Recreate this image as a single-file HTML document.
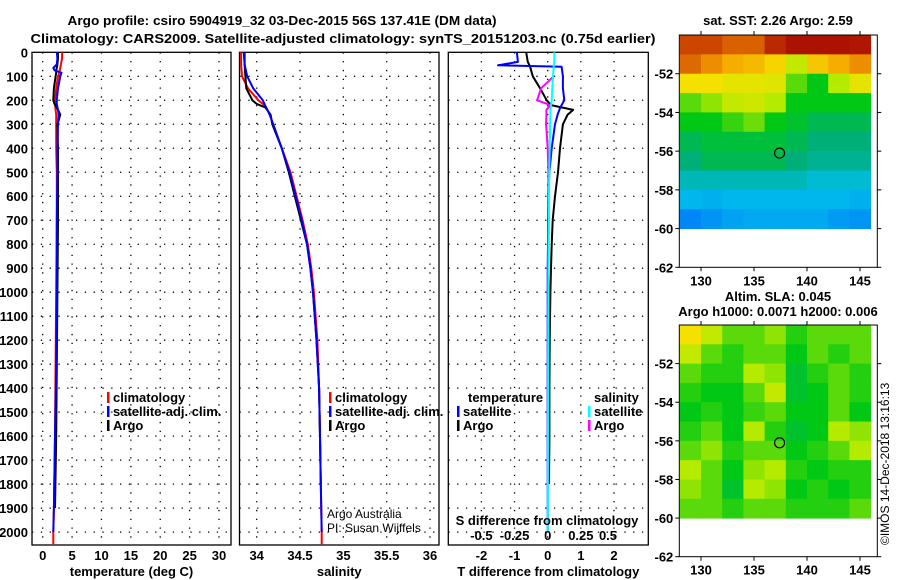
<!DOCTYPE html>
<html><head><meta charset="utf-8">
<style>
html,body{margin:0;padding:0;background:#fff;}
svg{display:block;font-family:"Liberation Sans",Arial,sans-serif;}
.b{font-weight:bold;font-size:13px;}
</style></head>
<body>
<svg id="c" width="900" height="580" viewBox="0 0 900 580" xmlns="http://www.w3.org/2000/svg">
<text class="b" x="282" y="25" text-anchor="middle" textLength="429" lengthAdjust="spacingAndGlyphs">Argo profile: csiro 5904919_32 03-Dec-2015 56S 137.41E (DM data)</text>
<text class="b" x="343" y="43" text-anchor="middle" textLength="625" lengthAdjust="spacingAndGlyphs">Climatology: CARS2009. Satellite-adjusted climatology: synTS_20151203.nc (0.75d earlier)</text>
<text class="b" x="778" y="25" text-anchor="middle">sat. SST: 2.26 Argo: 2.59</text>
<text class="b" x="778" y="301" text-anchor="middle">Altim. SLA: 0.045</text>
<text class="b" x="778" y="316" text-anchor="middle">Argo h1000: 0.0071 h2000: 0.006</text>
<text x="889" y="545" font-size="12" transform="rotate(-90 889 545)">©IMOS 14-Dec-2018 13:16:13</text>
<text x="327" y="518" font-size="12">Argo Australia</text>
<text x="327" y="532" font-size="12">PI: Susan Wijffels</text>
</svg>
<script>
// ---- profile data ----
const tDepth = [0,25,50,65,75,85,100,150,200,215,240,260,300,400,500,700,1000,1300,1600,1900,2000,2050];
const tClim  = [3.3,3.3,3.1,3.0,2.9,2.8,2.6,2.3,2.1,2.1,2.2,2.3,2.3,2.3,2.4,2.4,2.3,2.2,2.1,1.9,1.8,1.8];
const tSat   = [2.4,2.5,2.4,1.8,2.0,3.2,3.0,2.6,2.4,2.4,2.6,2.7,2.6,2.5,2.5,2.4,2.4,2.3,2.1,1.9,1.8,null];
const tArgo  = [2.6,2.6,2.5,2.4,2.3,2.3,2.2,1.9,1.8,2.0,2.6,3.0,2.5,2.6,2.6,2.6,2.5,2.4,2.3,2.1,null,null];
const sDepth = [0,50,100,150,200,215,230,260,300,400,500,600,700,800,900,1000,1200,1400,1600,1800,2000,2050];
const sClim  = [33.82,33.82,33.83,33.9,34.02,34.07,34.11,34.15,34.19,34.29,34.39,34.46,34.53,34.59,34.63,34.66,34.70,34.72,34.73,34.74,34.75,34.75];
const sSat   = [33.85,33.86,33.89,33.96,34.07,34.09,34.11,34.15,34.19,34.29,34.38,34.45,34.52,34.58,34.62,34.65,34.69,34.72,34.73,34.74,34.75,null];
const sArgo  = [33.86,33.86,33.87,33.88,33.95,34.0,34.1,34.16,34.18,34.29,34.37,34.44,34.51,34.58,34.62,34.65,34.69,34.72,34.73,34.74,null,null];
const dDepth = [0,40,54,60,100,150,200,220,240,260,300,400,500,600,700,800,900,1000,1200,1400,1600,1800,2000];
const dTArgo = [-0.65,-0.6,-0.55,-0.53,-0.45,-0.23,-0.03,0.1,0.77,0.6,0.46,0.37,0.31,0.22,0.15,0.12,0.1,0.08,0.06,0.05,0.05,0.04,null];
const dTSat  = [-0.93,-0.9,-1.5,0.42,0.46,0.46,0.5,0.42,0.35,0.3,0.22,0.12,0.05,0.02,0.01,0.01,0.0,0.0,0.0,0.0,0.0,0.0,0.0];
const dSSat  = [0.05,0.05,0.045,0.045,0.04,0.035,0.03,0.025,0.02,0.02,0.018,0.015,0.012,0.01,0.01,0.008,0.006,0.005,0.004,0.003,0.002,0.001,0.0];
const dSArgo = [null,null,null,null,0.045,-0.05,-0.08,0.02,-0.01,-0.01,-0.012,0.0,0.005,0.004,0.004,0.004,0.004,0.004,0.004,0.004,0.004,0.004,null];
const depthTicks = [0,100,200,300,400,500,600,700,800,900,1000,1100,1200,1300,1400,1500,1600,1700,1800,1900,2000];
const tTicks = [0,5,10,15,20,25,30];
const sTicks = [34,34.5,35,35.5,36];
const dtTicks = [-2,-1,0,1,2];
const dsTicks = [-0.5,-0.25,0,0.25,0.5];
const dsLabels = ["-0.5","-0.25","0","0.25","0.5"];
// ---- map data (colormap index 0..1) ----
const mapLons = [128,130,132,134,136,138,140,142,144,146];
const mapLats = [-50,-51,-52,-53,-54,-55,-56,-57,-58,-59,-60];
const sstGrid = [
 [0.88,0.88,0.85,0.85,0.93,0.97,0.97,0.97,0.96],
 [0.84,0.80,0.76,0.74,0.70,0.62,0.72,0.76,0.80],
 [0.68,0.68,0.66,0.66,0.65,0.55,0.50,0.60,0.66],
 [0.55,0.58,0.62,0.63,0.60,0.50,0.50,0.50,0.50],
 [0.50,0.50,0.53,0.56,0.50,0.48,0.45,0.45,0.45],
 [0.45,0.47,0.47,0.47,0.47,0.45,0.42,0.42,0.42],
 [0.42,0.45,0.45,0.45,0.45,0.42,0.40,0.40,0.40],
 [0.37,0.37,0.37,0.37,0.37,0.37,0.35,0.35,0.35],
 [0.32,0.31,0.32,0.32,0.32,0.32,0.32,0.32,0.31],
 [0.25,0.27,0.29,0.30,0.30,0.30,0.30,0.28,0.27]];
const slaGrid = [
 [0.68,0.62,0.55,0.55,0.58,0.52,0.55,0.55,0.55],
 [0.62,0.55,0.52,0.55,0.55,0.50,0.55,0.52,0.55],
 [0.55,0.52,0.52,0.60,0.58,0.48,0.52,0.55,0.52],
 [0.52,0.50,0.50,0.55,0.62,0.48,0.50,0.55,0.52],
 [0.50,0.52,0.50,0.53,0.55,0.50,0.50,0.55,0.50],
 [0.52,0.55,0.50,0.60,0.52,0.48,0.50,0.60,0.58],
 [0.55,0.58,0.52,0.55,0.55,0.50,0.52,0.55,0.60],
 [0.60,0.55,0.50,0.58,0.60,0.52,0.50,0.52,0.52],
 [0.58,0.55,0.48,0.60,0.58,0.50,0.52,0.50,0.52],
 [0.55,0.55,0.52,0.55,0.55,0.52,0.52,0.52,0.55]];
const floatLon = [137.41];
const floatLat = [-56.1];

const svg = document.getElementById('c');
const NS = 'http://www.w3.org/2000/svg';
function mk(tag, attrs, parent){const e=document.createElementNS(NS,tag);for(const k in attrs)e.setAttribute(k,attrs[k]);(parent||svg).appendChild(e);return e;}
const Y0=52.3, PXM=0.2399, PBOT=545;
const yD = d => Y0 + d*PXM;
function lin(v0,p0,v1,p1){return v=>p0+(v-v0)*(p1-p0)/(v1-v0);}
const xT = lin(0,42.7,30,219);
const xS = lin(34,256.7,36,430);
const xDT = lin(0,547.7,2,614);
const xDS = lin(0,547.7,0.5,614);

function panel(name,x0,x1,vx,vticks,labels,xlabel){
  const g=mk('g',{});
  
  
  depthTicks.forEach(d=>{ if(d>0) mk('line',{x1:x0,x2:x1,y1:yD(d),y2:yD(d),stroke:'#000','stroke-width':1.3,'stroke-dasharray':'1.3 7.5'},g); });
  vticks.forEach(v=>{ mk('line',{x1:vx(v),x2:vx(v),y1:Y0,y2:PBOT,stroke:'#000','stroke-width':1.3,'stroke-dasharray':'1.3 7.5'},g);});
  vticks.forEach((v,i)=>{const t=mk('text',{x:vx(v),y:560,'text-anchor':'middle',class:'b'},g);t.textContent=labels?labels[i]:String(v);});
  const xl=mk('text',{x:(x0+x1)/2,y:576,'text-anchor':'middle',class:'b'},g);xl.textContent=xlabel;
  
  
  mk('rect',{x:x0,y:Y0,width:x1-x0,height:PBOT-Y0,fill:'none',stroke:'#000','stroke-width':1.3},g);
  return g;
}
function series(g,name,depths,vals,xf,color,w){
  let d='',pen=false;
  depths.forEach((dep,i)=>{const v=vals[i]; if(v===null||v===undefined){pen=false;return;} d+=(pen?'L':'M')+xf(v).toFixed(1)+' '+yD(dep).toFixed(1)+' '; pen=true;});
  const p=mk('path',{d:d,fill:'none',stroke:color,'stroke-width':w||2,'stroke-linejoin':'round'},g);
  
  
}
function legend(g,x,y,color,label,bar){
  if(bar!==false) mk('rect',{x:x,y:y-10,width:2.5,height:11,fill:color},g);
  const t=mk('text',{x:x+6,y:y,class:'b'},g);t.textContent=label;
  
  
}
depthTicks.forEach(d=>{const t=mk('text',{x:28,y:yD(d)+5,'text-anchor':'end',class:'b'});t.textContent=d;});

const g1=panel('temperature-panel',32,231,xT,tTicks,null,'temperature (deg C)');
series(g1,'temp-climatology-line',tDepth,tClim,xT,'#f00');
series(g1,'temp-argo-line',tDepth,tArgo,xT,'#000');
series(g1,'temp-satellite-line',tDepth,tSat,xT,'#00f');
legend(g1,107,402,'#f00','climatology');legend(g1,107,416,'#00f','satellite-adj. clim.');legend(g1,107,430,'#000','Argo');

const g2=panel('salinity-panel',239.5,439,xS,sTicks,null,'salinity');
series(g2,'sal-climatology-line',sDepth,sClim,xS,'#f00');
series(g2,'sal-argo-line',sDepth,sArgo,xS,'#000');
series(g2,'sal-satellite-line',sDepth,sSat,xS,'#00f');
legend(g2,329,402,'#f00','climatology');legend(g2,329,416,'#00f','satellite-adj. clim.');legend(g2,329,430,'#000','Argo');

const g3=panel('difference-panel',448.3,648.3,xDT,dtTicks,null,'T difference from climatology');
series(g3,'t-diff-argo-line',dDepth,dTArgo,xDT,'#000');
series(g3,'t-diff-satellite-line',dDepth,dTSat,xDT,'#00f');
series(g3,'s-diff-argo-line',dDepth,dSArgo,xDS,'#f0f');
series(g3,'s-diff-satellite-line',dDepth,dSSat,xDS,'#0ff');
dsTicks.forEach((v,i)=>{const t=mk('text',{x:xDS(v)-(v>0.4?6:0),y:540,'text-anchor':'middle',class:'b'},g3);t.textContent=dsLabels[i];});
const st=mk('text',{x:547,y:525,'text-anchor':'middle',class:'b'},g3);st.textContent='S difference from climatology';


legend(g3,462,402,'#000','temperature',false);
legend(g3,457,416,'#00f','satellite');legend(g3,457,430,'#000','Argo');
legend(g3,588,402,'#000','salinity',false);
legend(g3,588,416,'#0ff','satellite');legend(g3,588,430,'#f0f','Argo');

const stops=[[0,[0,0,140]],[0.2,[0,100,255]],[0.33,[0,190,235]],[0.42,[0,175,120]],[0.5,[0,200,20]],[0.6,[180,235,0]],[0.68,[245,225,0]],[0.78,[245,160,0]],[0.88,[205,70,0]],[1,[160,0,0]]];
function cmap(v){for(let i=1;i<stops.length;i++){if(v<=stops[i][0]){const a=stops[i-1],b=stops[i],f=(v-a[0])/(b[0]-a[0]);return 'rgb('+a[1].map((c,k)=>Math.round(c+(b[1][k]-c)*f)).join(',')+')';}}return 'rgb(160,0,0)';}

function mapPanel(name,grid,top,bot){
  const x0=679.3,x1=877.3;
  const xL=lin(130,701,145,860);
  const yL=lin(-50,top,-62,bot);
  const g=mk('g',{});
  
  
  grid.forEach((row,r)=>row.forEach((v,c)=>{
    const xa=Math.max(x0,xL(mapLons[c])),xb=Math.min(x1,xL(mapLons[c+1]));
    const cell=mk('rect',{x:xa,y:yL(mapLats[r]),width:xb-xa+0.5,height:yL(mapLats[r+1])-yL(mapLats[r])+0.5,fill:cmap(v)},g);
    
    
  }));
  mk('rect',{x:x0,y:top,width:x1-x0,height:bot-top,fill:'none',stroke:'#000','stroke-width':1},g);
  [-52,-54,-56,-58,-60,-62].forEach(l=>{
    mk('line',{x1:x0-4,x2:x0,y1:yL(l),y2:yL(l),stroke:'#000'},g);
    mk('line',{x1:x1,x2:x1+4,y1:yL(l),y2:yL(l),stroke:'#000'},g);
    const t=mk('text',{x:x0-6,y:yL(l)+5,'text-anchor':'end',class:'b'},g);t.textContent=l;});
  [130,135,140,145].forEach(l=>{
    mk('line',{x1:xL(l),x2:xL(l),y1:bot,y2:bot+4,stroke:'#000'},g);
    mk('line',{x1:xL(l),x2:xL(l),y1:top-4,y2:top,stroke:'#000'},g);
    const t=mk('text',{x:xL(l),y:bot+18,'text-anchor':'middle',class:'b'},g);t.textContent=l;});
  const c=mk('circle',{cx:xL(floatLon[0]),cy:yL(floatLat[0]),r:5,fill:'none',stroke:'#000','stroke-width':1.2},g);
  
  
}
mapPanel('sst-map',sstGrid,35,267.3);
mapPanel('sla-map',slaGrid,325,556.7);
</script>
</body></html>
